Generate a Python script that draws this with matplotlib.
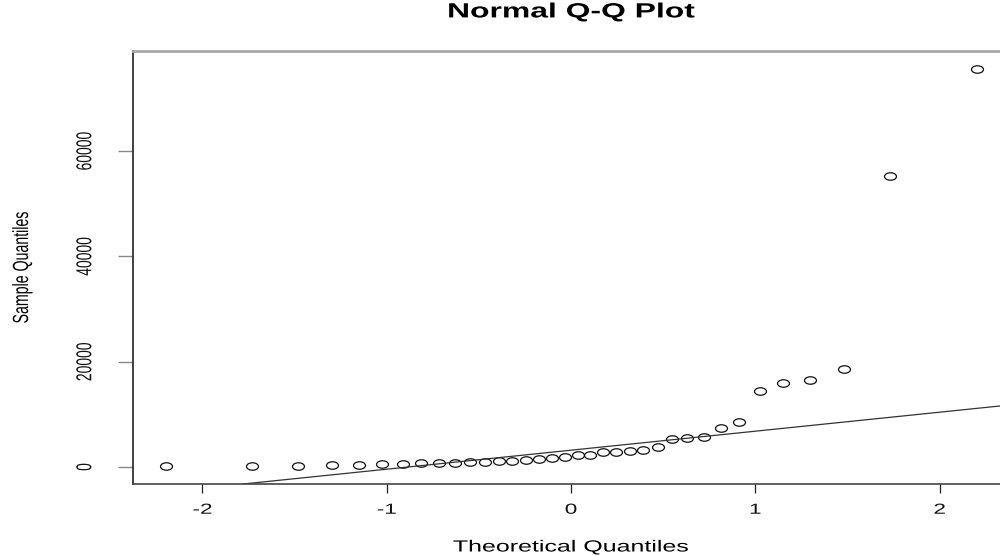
import statistics

import matplotlib

matplotlib.use("Agg")
import matplotlib.pyplot as plt
import numpy as np
from matplotlib.path import Path
from matplotlib.patheffects import AbstractPathEffect
from matplotlib.transforms import Affine2D


WIDTH_PX = 1000
HEIGHT_PX = 556
DPI = 100

sample_values = [
    100, 150, 250, 380, 450, 560, 600, 700, 720, 770,
    980, 1020, 1180, 1220, 1330, 1460, 1650, 1850, 2250, 2300,
    2780, 2900, 3050, 3230, 3850, 5350, 5600, 5700, 7350, 8500,
    14400, 16000, 16500, 18600, 55300, 75600,
]
x_ticks = [-2, -1, 0, 1, 2]
y_ticks = [0, 20000, 40000, 60000]
y_tick_labels = ["0", "20000", "40000", "60000"]

TITLE = "Normal Q-Q Plot"
X_LABEL = "Theoretical Quantiles"
Y_LABEL = "Sample Quantiles"

# The reference picture is stretched horizontally; text and markers follow.
STRETCH = 1.55


class StretchX(AbstractPathEffect):
    # Widen drawn text about its own centre, the way the reference image is.
    def __init__(self, sx):
        super().__init__()
        self.sx = sx

    def draw_path(self, renderer, gc, tpath, affine, rgbFace=None):
        bb = tpath.get_extents(affine)
        cx = bb.x0 + bb.width / 2
        extra = Affine2D().translate(-cx, 0).scale(self.sx, 1).translate(cx, 0)
        renderer.draw_path(gc, tpath, affine + extra, rgbFace)


def ppoints(n):
    # R's ppoints for n > 10.
    return [(i - 0.5) / n for i in range(1, n + 1)]


def ellipse_marker(sx):
    circle = Path.unit_circle()
    return Path(circle.vertices * [sx, 1.0], circle.codes)


def main():
    plt.rcParams["font.family"] = ["Liberation Sans", "DejaVu Sans"]

    y = np.sort(np.array(sample_values, dtype=float))
    nd = statistics.NormalDist()
    x = np.array([nd.inv_cdf(p) for p in ppoints(len(y))])

    # qqline: through the first and third quartiles.
    q1, q3 = np.percentile(y, [25, 75])
    z1, z3 = nd.inv_cdf(0.25), nd.inv_cdf(0.75)
    slope = (q3 - q1) / (z3 - z1)
    intercept = q1 - slope * z1

    fig = plt.figure(figsize=(WIDTH_PX / DPI, HEIGHT_PX / DPI), dpi=DPI)
    fig.patch.set_facecolor("white")
    ax = fig.add_axes([133 / WIDTH_PX, 72 / HEIGHT_PX, 876 / WIDTH_PX, 433 / HEIGHT_PX])

    ax.plot(
        x, y, linestyle="none", marker=ellipse_marker(1.6), markersize=8.6,
        markerfacecolor="none", markeredgecolor="#111111", markeredgewidth=0.9,
    )
    ax.axline((0, intercept), slope=slope, color="#333333", linewidth=0.9)

    ax.set_xlim(-2.377, 2.376)
    ax.set_ylim(-3230, 79000)

    ax.set_xticks(x_ticks)
    ax.set_xticklabels([str(t) for t in x_ticks])
    ax.set_yticks(y_ticks)
    ax.set_yticklabels(y_tick_labels)
    ax.tick_params(axis="x", direction="out", length=6.5, width=0.9,
                   color="#222222", pad=7, labelsize=10.5, labelcolor="#111111")
    ax.tick_params(axis="y", direction="out", length=10.8, width=1.0,
                   color="#888888", pad=19, labelsize=10, labelcolor="#111111",
                   labelrotation=90)
    for lbl in ax.get_yticklabels():
        lbl.set_va("center")

    for side, color, lw in [("left", "#222222", 1.2), ("bottom", "#444444", 1.2),
                            ("top", "#a8a8a8", 2.0), ("right", "#444444", 1.2)]:
        ax.spines[side].set_color(color)
        ax.spines[side].set_linewidth(lw)

    ax.set_title(TITLE, fontsize=14.8, fontweight="bold", y=1.071, va="center")
    ax.set_xlabel(X_LABEL, fontsize=11.6, va="center")
    ax.xaxis.set_label_coords(0.5, -0.1455)
    ax.set_ylabel(Y_LABEL, fontsize=10.2, va="center")
    ax.yaxis.set_label_coords(-0.1267, 0.5)

    effect = [StretchX(STRETCH)]
    texts = [ax.title, ax.xaxis.label, ax.yaxis.label]
    texts += ax.get_xticklabels() + ax.get_yticklabels()
    for t in texts:
        t.set_path_effects(effect)

    fig.savefig("out.png", dpi=DPI)
    plt.close(fig)


if __name__ == "__main__":
    main()
